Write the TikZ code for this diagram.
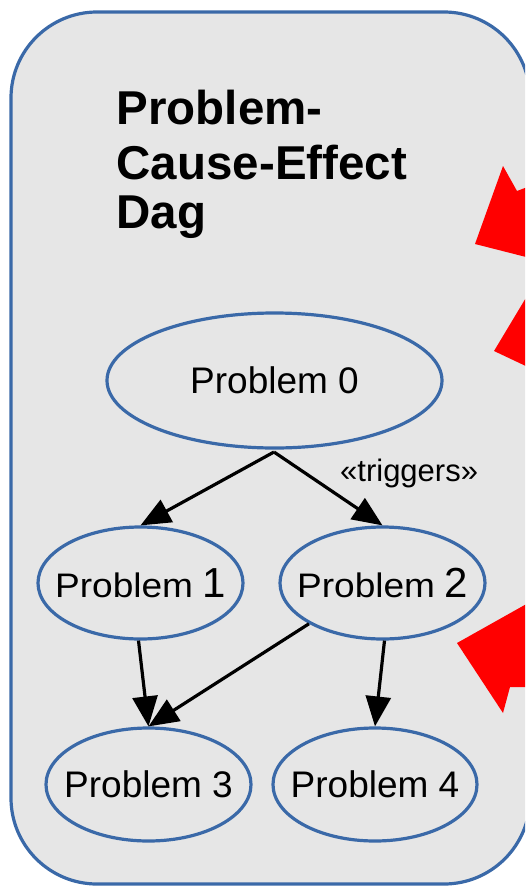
\documentclass[tikz,border=0pt]{standalone}
\usepackage{fontspec}
\setmainfont{Liberation Sans}
\usetikzlibrary{shapes.geometric,arrows.meta}
\definecolor{boxblue}{HTML}{3A69A8}
\definecolor{boxfill}{HTML}{E6E6E6}
\definecolor{bigred}{HTML}{FF0000}
\newcommand{\zw}[1]{\makebox[0pt]{#1}}
\newcommand{\probnum}[1]{\zw{\scalebox{1.09}[1]{\fontsize{34}{40}\selectfont Problem}\fontsize{34}{40}\selectfont\ \fontsize{42}{42}\selectfont #1}}
\tikzset{
  prob/.style={ellipse,draw=boxblue,line width=3.2pt,inner sep=0pt,
    font=\fontsize{37}{40}\selectfont},
  titleline/.style={anchor=base west,inner sep=0pt,font=\fontsize{47.5}{52}\selectfont\bfseries},
  link/.style={line width=3.2pt,-{Triangle[length=30pt,width=25pt]}},
  redshape/.style={fill=bigred,draw=none}
}
\begin{document}
\begin{tikzpicture}[x=1pt,y=-1pt]
\useasboundingbox (0,0) rectangle (525,886);
\clip (0,0) rectangle (525,886);
% container
\draw[draw=boxblue,fill=boxfill,line width=3.2pt,rounded corners=86pt] (11,12) rectangle (530,884);
% title
\node[titleline] (t1) at (116.5,124) {Problem-};
\node[titleline] (t2) at (116.5,179) {Cause-Effect};
\node[titleline] (t3) at (116.5,228) {Dag};
% problems
\node[prob,minimum width=335pt,minimum height=135pt] (p0) at (274.5,380.5) {\zw{Problem 0}};
\node[prob,minimum width=205pt,minimum height=112pt] (p1) at (140.5,583) {\probnum{1}};
\node[prob,minimum width=205pt,minimum height=112pt] (p2) at (382.5,583) {\probnum{2}};
\node[prob,minimum width=205pt,minimum height=113pt] (p3) at (148.5,784.5) {\zw{Problem 3}};
\node[prob,minimum width=204pt,minimum height=113pt] (p4) at (375,784.5) {\zw{Problem 4}};
% connectors
\coordinate (p0b) at (274,452);
\draw[link] (p0b) -- (p1.north);
\draw[link] (p0b) -- (p2.north);
\node[inner sep=0pt,anchor=base west,font=\fontsize{31}{32}\selectfont] (trig) at (340,481) {«triggers»};
\draw[link] (p1.268) -- (p3.north);
\draw[link] (p2.209) -- (p3.north);
\draw[link] (p2.272) -- (p4.north);
% red arrow fragments
\fill[redshape] (530,186) -- (517,191) -- (503,166) -- (475,244) -- (530,258) -- cycle;
\fill[redshape] (530,291) -- (494,351) -- (530,368) -- cycle;
\fill[redshape] (530,602) -- (457,643) -- (503,713) -- (510,687) -- (530,687) -- cycle;
\end{tikzpicture}
\end{document}
